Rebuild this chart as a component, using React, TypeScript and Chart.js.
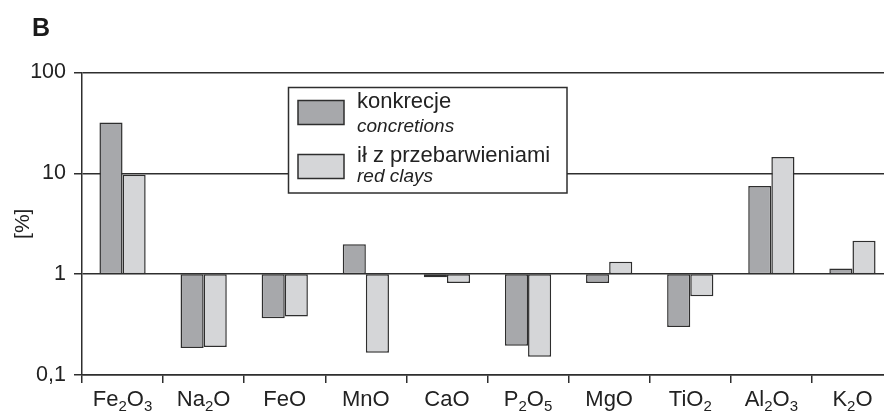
import React, { useEffect, useRef } from "react";
import { Chart, registerables } from "chart.js";

Chart.register(...registerables);

const categories = ["Fe₂O₃", "Na₂O", "FeO", "MnO", "CaO", "P₂O₅", "MgO", "TiO₂", "Al₂O₃", "K₂O"];
const concretions = [32, 0.185, 0.366, 1.98, 0.934, 0.195, 0.815, 0.3, 7.5, 1.14];
const redClays = [9.7, 0.189, 0.38, 0.166, 0.815, 0.152, 1.33, 0.605, 14.5, 2.14];
const baseValue = 1;
const yTickValues = [0.1, 1, 10, 100];
const yTickLabels = ["0,1", "1", "10", "100"];
const legendTitles = ["konkrecje", "ił z przebarwieniami"];
const legendSubtitles = ["concretions", "red clays"];
const panelLabel = "B";
const yAxisTitle = "[%]";

const FONT = "'Liberation Sans', Arial, Helvetica, sans-serif";
const TEXT = "#222";
const LINE = "#2e2e2e";
const DARK_FILL = "#a7a8ab";
const LIGHT_FILL = "#d5d6d8";

const SUB_MAP: Record<string, string> = {
  "₀": "0", "₁": "1", "₂": "2", "₃": "3", "₄": "4",
  "₅": "5", "₆": "6", "₇": "7", "₈": "8", "₉": "9",
};

function drawChem(ctx: CanvasRenderingContext2D, label: string, cx: number, baseline: number) {
  const parts: { t: string; sub: boolean }[] = [];
  for (const ch of label) {
    const sub = ch in SUB_MAP;
    const t = sub ? SUB_MAP[ch] : ch;
    const last = parts[parts.length - 1];
    if (last && last.sub === sub) last.t += t;
    else parts.push({ t, sub });
  }
  const mainFont = `22px ${FONT}`;
  const subFont = `15px ${FONT}`;
  let total = 0;
  const widths = parts.map((p) => {
    ctx.font = p.sub ? subFont : mainFont;
    const w = ctx.measureText(p.t).width;
    total += w;
    return w;
  });
  let x = cx - total / 2;
  ctx.textAlign = "left";
  ctx.textBaseline = "alphabetic";
  ctx.fillStyle = TEXT;
  parts.forEach((p, i) => {
    ctx.font = p.sub ? subFont : mainFont;
    ctx.fillText(p.t, x, p.sub ? baseline + 5 : baseline);
    x += widths[i];
  });
}

const decorPlugin = {
  id: "decor",
  afterDraw(chart: any) {
    const ctx: CanvasRenderingContext2D = chart.ctx;
    const xs = chart.scales.x;
    ctx.save();
    // x category labels with subscripts
    categories.forEach((c, i) => {
      drawChem(ctx, c, xs.getPixelForValue(i), 406);
    });
    // panel label
    ctx.font = `bold 25px ${FONT}`;
    ctx.fillStyle = "#1a1a1a";
    ctx.textAlign = "left";
    ctx.textBaseline = "alphabetic";
    ctx.fillText(panelLabel, 32, 36);
    // y axis title
    ctx.save();
    ctx.translate(29, (chart.chartArea.top + chart.chartArea.bottom) / 2);
    ctx.rotate(-Math.PI / 2);
    ctx.font = `21px ${FONT}`;
    ctx.fillStyle = TEXT;
    ctx.textAlign = "center";
    ctx.textBaseline = "alphabetic";
    ctx.fillText(yAxisTitle, 0, 0);
    ctx.restore();
    // legend box
    const bx = 288.5, by = 87.5, bw = 278.5, bh = 105.5;
    ctx.fillStyle = "#fff";
    ctx.fillRect(bx, by, bw, bh);
    ctx.strokeStyle = LINE;
    ctx.lineWidth = 1.5;
    ctx.strokeRect(bx, by, bw, bh);
    const fills = [DARK_FILL, LIGHT_FILL];
    const swY = [100.5, 154.5];
    const titleBase = [108, 162];
    const subBase = [131.5, 182];
    for (let i = 0; i < 2; i++) {
      ctx.fillStyle = fills[i];
      ctx.fillRect(298, swY[i], 46, 24);
      ctx.strokeStyle = LINE;
      ctx.lineWidth = 1.5;
      ctx.strokeRect(298, swY[i], 46, 24);
      ctx.fillStyle = TEXT;
      ctx.textAlign = "left";
      ctx.font = `22px ${FONT}`;
      ctx.fillText(legendTitles[i], 357, titleBase[i]);
      ctx.font = `italic 19px ${FONT}`;
      ctx.fillText(legendSubtitles[i], 357, subBase[i]);
    }
    ctx.restore();
  },
};

export default function App() {
  const ref = useRef<HTMLCanvasElement | null>(null);
  useEffect(() => {
    if (!ref.current) return;
    const chart = new Chart(ref.current, {
      type: "bar",
      data: {
        labels: categories,
        datasets: [
          {
            label: legendSubtitles[0],
            data: concretions.map((v) => [baseValue, v]) as any,
            backgroundColor: DARK_FILL,
            borderColor: LINE,
            borderWidth: 1.5,
            borderSkipped: false,
            categoryPercentage: 0.57,
            barPercentage: 1,
          },
          {
            label: legendSubtitles[1],
            data: redClays.map((v) => [baseValue, v]) as any,
            backgroundColor: LIGHT_FILL,
            borderColor: LINE,
            borderWidth: 1.5,
            borderSkipped: false,
            categoryPercentage: 0.57,
            barPercentage: 1,
          },
        ],
      },
      options: {
        responsive: false,
        animation: false,
        devicePixelRatio: 1,
        layout: { padding: { top: 72.5, left: 0, right: 7, bottom: 0 } },
        plugins: { legend: { display: false }, tooltip: { enabled: false } },
        scales: {
          x: {
            type: "category",
            offset: true,
            grid: {
              offset: true,
              drawOnChartArea: false,
              drawTicks: true,
              tickLength: 8,
              color: LINE,
              lineWidth: 1.5,
            },
            border: { display: true, color: LINE, width: 1.5 },
            ticks: { color: "rgba(0,0,0,0)", font: { size: 22, family: FONT } },
            afterFit: (s: any) => {
              s.height = 37;
            },
          },
          y: {
            type: "logarithmic",
            min: 0.1,
            max: 100,
            afterBuildTicks: (s: any) => {
              s.ticks = yTickValues.map((v) => ({ value: v }));
            },
            afterFit: (s: any) => {
              s.width = 82;
            },
            ticks: {
              autoSkip: false,
              padding: 8,
              color: TEXT,
              font: { size: 21.5, family: FONT },
              callback: (v: any) => {
                const i = yTickValues.findIndex((t) => Math.abs(t - Number(v)) < 1e-9);
                return i >= 0 ? yTickLabels[i] : "";
              },
            },
            grid: { color: LINE, lineWidth: 1.5, drawTicks: true, tickLength: 8 },
            border: { display: true, color: LINE, width: 1.5 },
          },
        },
      },
      plugins: [decorPlugin],
    });
    return () => chart.destroy();
  }, []);
  return (
    <div
      style={{
        position: "fixed",
        left: 0,
        top: 0,
        width: 884,
        height: 412,
        overflow: "hidden",
        background: "#fff",
      }}
    >
      <canvas ref={ref} width={900} height={412} style={{ display: "block" }} />
    </div>
  );
}
